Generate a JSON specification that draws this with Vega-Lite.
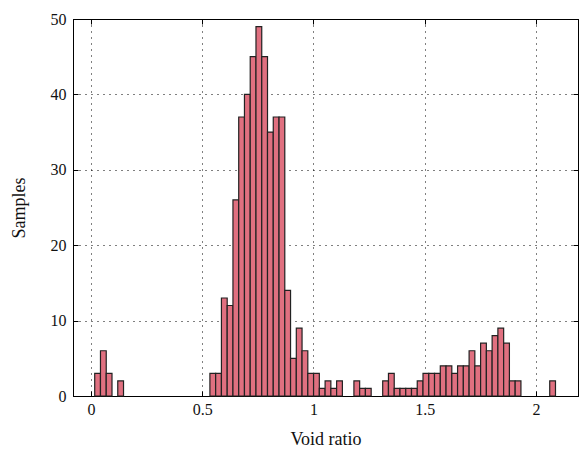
{
  "$schema": "https://vega.github.io/schema/vega-lite/v6.json",
  "width": 505,
  "height": 377,
  "autosize": "none",
  "padding": {"left": 73, "top": 19, "right": 3, "bottom": 69},
  "background": "white",
  "config": {
    "view": {"stroke": "black", "strokeWidth": 1},
    "font": "Liberation Serif",
    "axis": {
      "labelFont": "Liberation Serif",
      "titleFont": "Liberation Serif",
      "labelFontSize": 16,
      "titleFontSize": 18,
      "titleFontWeight": "normal",
      "labelColor": "#111",
      "titleColor": "#111",
      "domainColor": "black",
      "tickColor": "black",
      "tickSize": -5,
      "gridColor": "black",
      "gridDash": [1, 5],
      "gridOpacity": 1,
      "gridWidth": 1
    }
  },
  "data": {
    "values": [
      {"x0": 0.0166, "x1": 0.0425, "n": 3},
      {"x0": 0.0425, "x1": 0.0684, "n": 6},
      {"x0": 0.0684, "x1": 0.0943, "n": 3},
      {"x0": 0.1202, "x1": 0.1461, "n": 2},
      {"x0": 0.5344, "x1": 0.5603, "n": 3},
      {"x0": 0.5603, "x1": 0.5862, "n": 3},
      {"x0": 0.5862, "x1": 0.6121, "n": 13},
      {"x0": 0.6121, "x1": 0.6380, "n": 12},
      {"x0": 0.6380, "x1": 0.6639, "n": 26},
      {"x0": 0.6639, "x1": 0.6897, "n": 37},
      {"x0": 0.6897, "x1": 0.7156, "n": 40},
      {"x0": 0.7156, "x1": 0.7415, "n": 45},
      {"x0": 0.7415, "x1": 0.7674, "n": 49},
      {"x0": 0.7674, "x1": 0.7933, "n": 45},
      {"x0": 0.7933, "x1": 0.8192, "n": 35},
      {"x0": 0.8192, "x1": 0.8451, "n": 37},
      {"x0": 0.8451, "x1": 0.8710, "n": 37},
      {"x0": 0.8710, "x1": 0.8969, "n": 14},
      {"x0": 0.8969, "x1": 0.9228, "n": 5},
      {"x0": 0.9228, "x1": 0.9486, "n": 9},
      {"x0": 0.9486, "x1": 0.9745, "n": 6},
      {"x0": 0.9745, "x1": 1.0004, "n": 3},
      {"x0": 1.0004, "x1": 1.0263, "n": 3},
      {"x0": 1.0263, "x1": 1.0522, "n": 1},
      {"x0": 1.0522, "x1": 1.0781, "n": 2},
      {"x0": 1.0781, "x1": 1.1040, "n": 1},
      {"x0": 1.1040, "x1": 1.1299, "n": 2},
      {"x0": 1.1817, "x1": 1.2075, "n": 2},
      {"x0": 1.2075, "x1": 1.2334, "n": 1},
      {"x0": 1.2334, "x1": 1.2593, "n": 1},
      {"x0": 1.3111, "x1": 1.3370, "n": 2},
      {"x0": 1.3370, "x1": 1.3629, "n": 3},
      {"x0": 1.3629, "x1": 1.3888, "n": 1},
      {"x0": 1.3888, "x1": 1.4147, "n": 1},
      {"x0": 1.4147, "x1": 1.4406, "n": 1},
      {"x0": 1.4406, "x1": 1.4664, "n": 1},
      {"x0": 1.4664, "x1": 1.4923, "n": 2},
      {"x0": 1.4923, "x1": 1.5182, "n": 3},
      {"x0": 1.5182, "x1": 1.5441, "n": 3},
      {"x0": 1.5441, "x1": 1.5700, "n": 3},
      {"x0": 1.5700, "x1": 1.5959, "n": 4},
      {"x0": 1.5959, "x1": 1.6218, "n": 4},
      {"x0": 1.6218, "x1": 1.6477, "n": 3},
      {"x0": 1.6477, "x1": 1.6736, "n": 4},
      {"x0": 1.6736, "x1": 1.6995, "n": 4},
      {"x0": 1.6995, "x1": 1.7253, "n": 6},
      {"x0": 1.7253, "x1": 1.7512, "n": 4},
      {"x0": 1.7512, "x1": 1.7771, "n": 7},
      {"x0": 1.7771, "x1": 1.8030, "n": 6},
      {"x0": 1.8030, "x1": 1.8289, "n": 8},
      {"x0": 1.8289, "x1": 1.8548, "n": 9},
      {"x0": 1.8548, "x1": 1.8807, "n": 7},
      {"x0": 1.8807, "x1": 1.9066, "n": 2},
      {"x0": 1.9066, "x1": 1.9325, "n": 2},
      {"x0": 2.0619, "x1": 2.0878, "n": 2}
    ]
  },
  "layer": [
    {
      "mark": {"type": "bar", "fill": "#e07080", "stroke": "#222", "strokeWidth": 1.2},
      "encoding": {
        "x": {
          "field": "x0", "type": "quantitative",
          "scale": {"domain": [-0.081, 2.189], "nice": false, "zero": false},
          "axis": {"values": [0, 0.5, 1, 1.5, 2], "format": "~g", "title": "Void ratio", "labelFont": "Liberation Serif", "titleFont": "Liberation Serif", "labelPadding": 10, "titlePadding": 13, "grid": true}
        },
        "x2": {"field": "x1"},
        "y": {
          "field": "n", "type": "quantitative",
          "scale": {"domain": [0, 50], "nice": false},
          "axis": {"values": [0, 10, 20, 30, 40, 50], "title": "Samples", "labelFont": "Liberation Serif", "titleFont": "Liberation Serif", "labelPadding": 12, "titlePadding": 22, "grid": true}
        },
        "y2": {"datum": 0}
      }
    },
    {
      "mark": {"type": "bar", "opacity": 0},
      "encoding": {
        "x": {
          "field": "x0", "type": "quantitative",
          "scale": {"domain": [-0.081, 2.189], "nice": false, "zero": false},
          "axis": {"orient": "top", "values": [0, 0.5, 1, 1.5, 2], "title": null, "labels": false, "grid": false}
        },
        "x2": {"field": "x1"},
        "y": {
          "field": "n", "type": "quantitative",
          "scale": {"domain": [0, 50], "nice": false},
          "axis": {"orient": "right", "values": [0, 10, 20, 30, 40, 50], "title": null, "labels": false, "grid": false}
        },
        "y2": {"datum": 0}
      }
    }
  ],
  "resolve": {"axis": {"x": "independent", "y": "independent"}}
}
